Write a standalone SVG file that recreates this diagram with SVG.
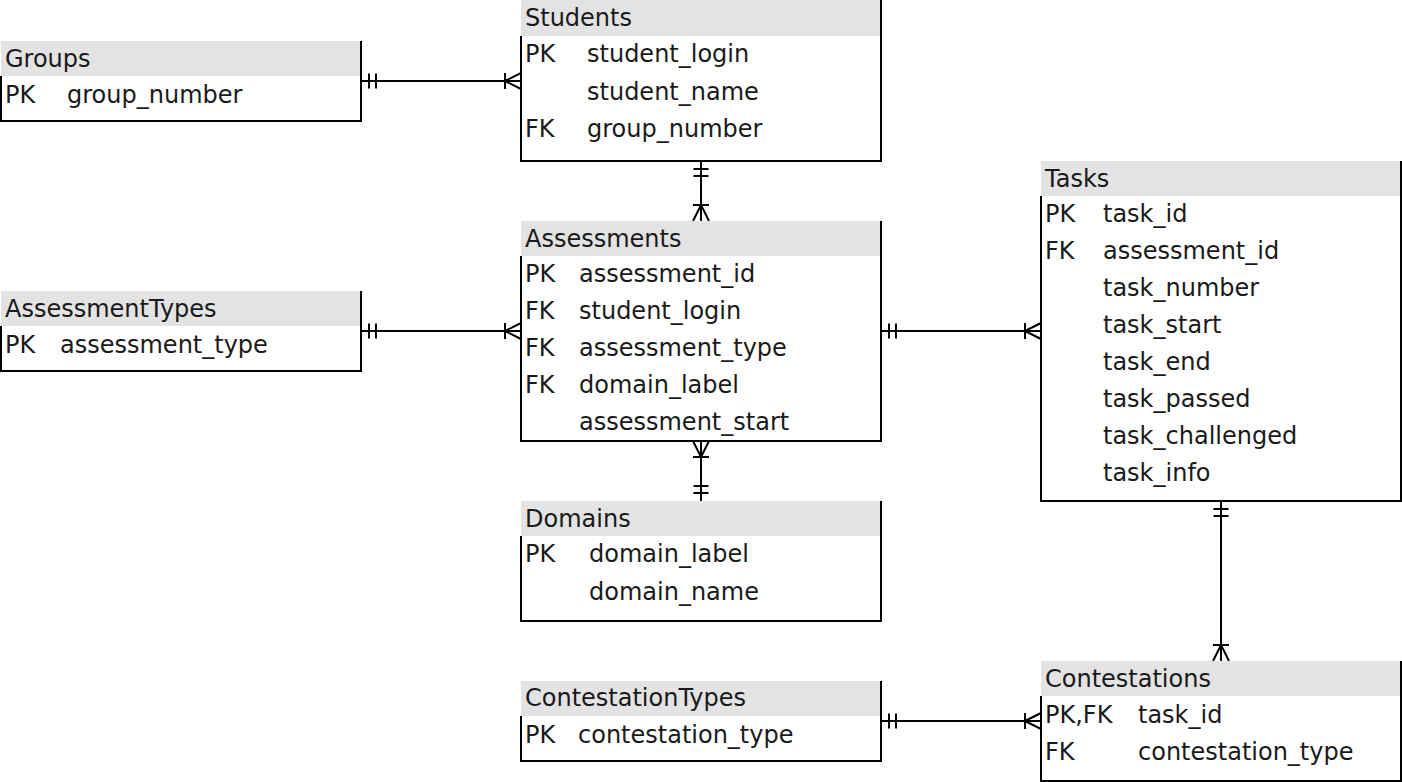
<svg xmlns="http://www.w3.org/2000/svg" width="1402" height="782" viewBox="0 0 1402 782">
<style>
text{font-family:"DejaVu Sans","Liberation Sans",sans-serif;font-size:24px;fill:#1a1a1a}
.hd{fill:#e3e3e3;stroke:none}
.bd{fill:none;stroke:#000;stroke-width:2}
.cn{fill:none;stroke:#000;stroke-width:2}
</style>
<defs>
<marker id="many" markerUnits="userSpaceOnUse" markerWidth="20" markerHeight="20" refX="0" refY="0" orient="auto-start-reverse" overflow="visible">
<path d="M-16,-8V8M-16,0L0,-8M-16,0L0,8" fill="none" stroke="#000" stroke-width="2"/>
</marker>
<marker id="one" markerUnits="userSpaceOnUse" markerWidth="20" markerHeight="20" refX="0" refY="0" orient="auto-start-reverse" overflow="visible">
<path d="M-8,-7.5V7.5M-15,-7.5V7.5" fill="none" stroke="#000" stroke-width="2"/>
</marker>
</defs>
<rect width="1402" height="782" fill="#fff"/>

<g id="connectors">
<path class="cn" d="M361,81H521" marker-start="url(#one)" marker-end="url(#many)"/>
<path class="cn" d="M701,161V221" marker-start="url(#one)" marker-end="url(#many)"/>
<path class="cn" d="M361,331H521" marker-start="url(#one)" marker-end="url(#many)"/>
<path class="cn" d="M881,331H1041" marker-start="url(#one)" marker-end="url(#many)"/>
<path class="cn" d="M701,501V441" marker-start="url(#one)" marker-end="url(#many)"/>
<path class="cn" d="M1221,501V661" marker-start="url(#one)" marker-end="url(#many)"/>
<path class="cn" d="M881,721H1041" marker-start="url(#one)" marker-end="url(#many)"/>
</g>

<g id="Students">
<rect class="hd" x="521" y="0" width="360" height="36"/>
<path class="bd" d="M521,36V161H881V0"/>
<text x="525" y="26">Students</text>
<text x="525" y="62">PK</text><text x="587" y="62">student_login</text>
<text x="587" y="99.5">student_name</text>
<text x="525" y="137">FK</text><text x="587" y="137">group_number</text>
</g>

<g id="Groups">
<rect class="hd" x="1" y="41" width="360" height="35"/>
<path class="bd" d="M1,76V121H361V41"/>
<text x="5" y="67">Groups</text>
<text x="5" y="102.5">PK</text><text x="67" y="102.5">group_number</text>
</g>

<g id="Assessments">
<rect class="hd" x="521" y="221" width="360" height="35"/>
<path class="bd" d="M521,256V441H881V221"/>
<text x="525" y="247">Assessments</text>
<text x="525" y="282">PK</text><text x="579" y="282">assessment_id</text>
<text x="525" y="319">FK</text><text x="579" y="319">student_login</text>
<text x="525" y="356">FK</text><text x="579" y="356">assessment_type</text>
<text x="525" y="393">FK</text><text x="579" y="393">domain_label</text>
<text x="579" y="430">assessment_start</text>
</g>

<g id="AssessmentTypes">
<rect class="hd" x="1" y="291" width="360" height="35"/>
<path class="bd" d="M1,326V371H361V291"/>
<text x="5" y="317">AssessmentTypes</text>
<text x="5" y="352.5">PK</text><text x="60" y="352.5">assessment_type</text>
</g>

<g id="Domains">
<rect class="hd" x="521" y="501" width="360" height="35"/>
<path class="bd" d="M521,536V621H881V501"/>
<text x="525" y="527">Domains</text>
<text x="525" y="562">PK</text><text x="589" y="562">domain_label</text>
<text x="589" y="599.5">domain_name</text>
</g>

<g id="Tasks">
<rect class="hd" x="1041" y="161" width="360" height="35"/>
<path class="bd" d="M1041,196V501H1401V161"/>
<text x="1045" y="187">Tasks</text>
<text x="1045" y="222">PK</text><text x="1103" y="222">task_id</text>
<text x="1045" y="259">FK</text><text x="1103" y="259">assessment_id</text>
<text x="1103" y="296">task_number</text>
<text x="1103" y="333">task_start</text>
<text x="1103" y="370">task_end</text>
<text x="1103" y="407">task_passed</text>
<text x="1103" y="444">task_challenged</text>
<text x="1103" y="480.5">task_info</text>
</g>

<g id="ContestationTypes">
<rect class="hd" x="521" y="681" width="360" height="35"/>
<path class="bd" d="M521,716V761H881V681"/>
<text x="525" y="706">ContestationTypes</text>
<text x="525" y="742.5">PK</text><text x="578" y="742.5">contestation_type</text>
</g>

<g id="Contestations">
<rect class="hd" x="1041" y="661" width="360" height="35"/>
<path class="bd" d="M1041,696V781H1401V661"/>
<text x="1045" y="687">Contestations</text>
<text x="1045" y="722.5">PK,FK</text><text x="1138" y="722.5">task_id</text>
<text x="1045" y="760">FK</text><text x="1138" y="760">contestation_type</text>
</g>
</svg>
